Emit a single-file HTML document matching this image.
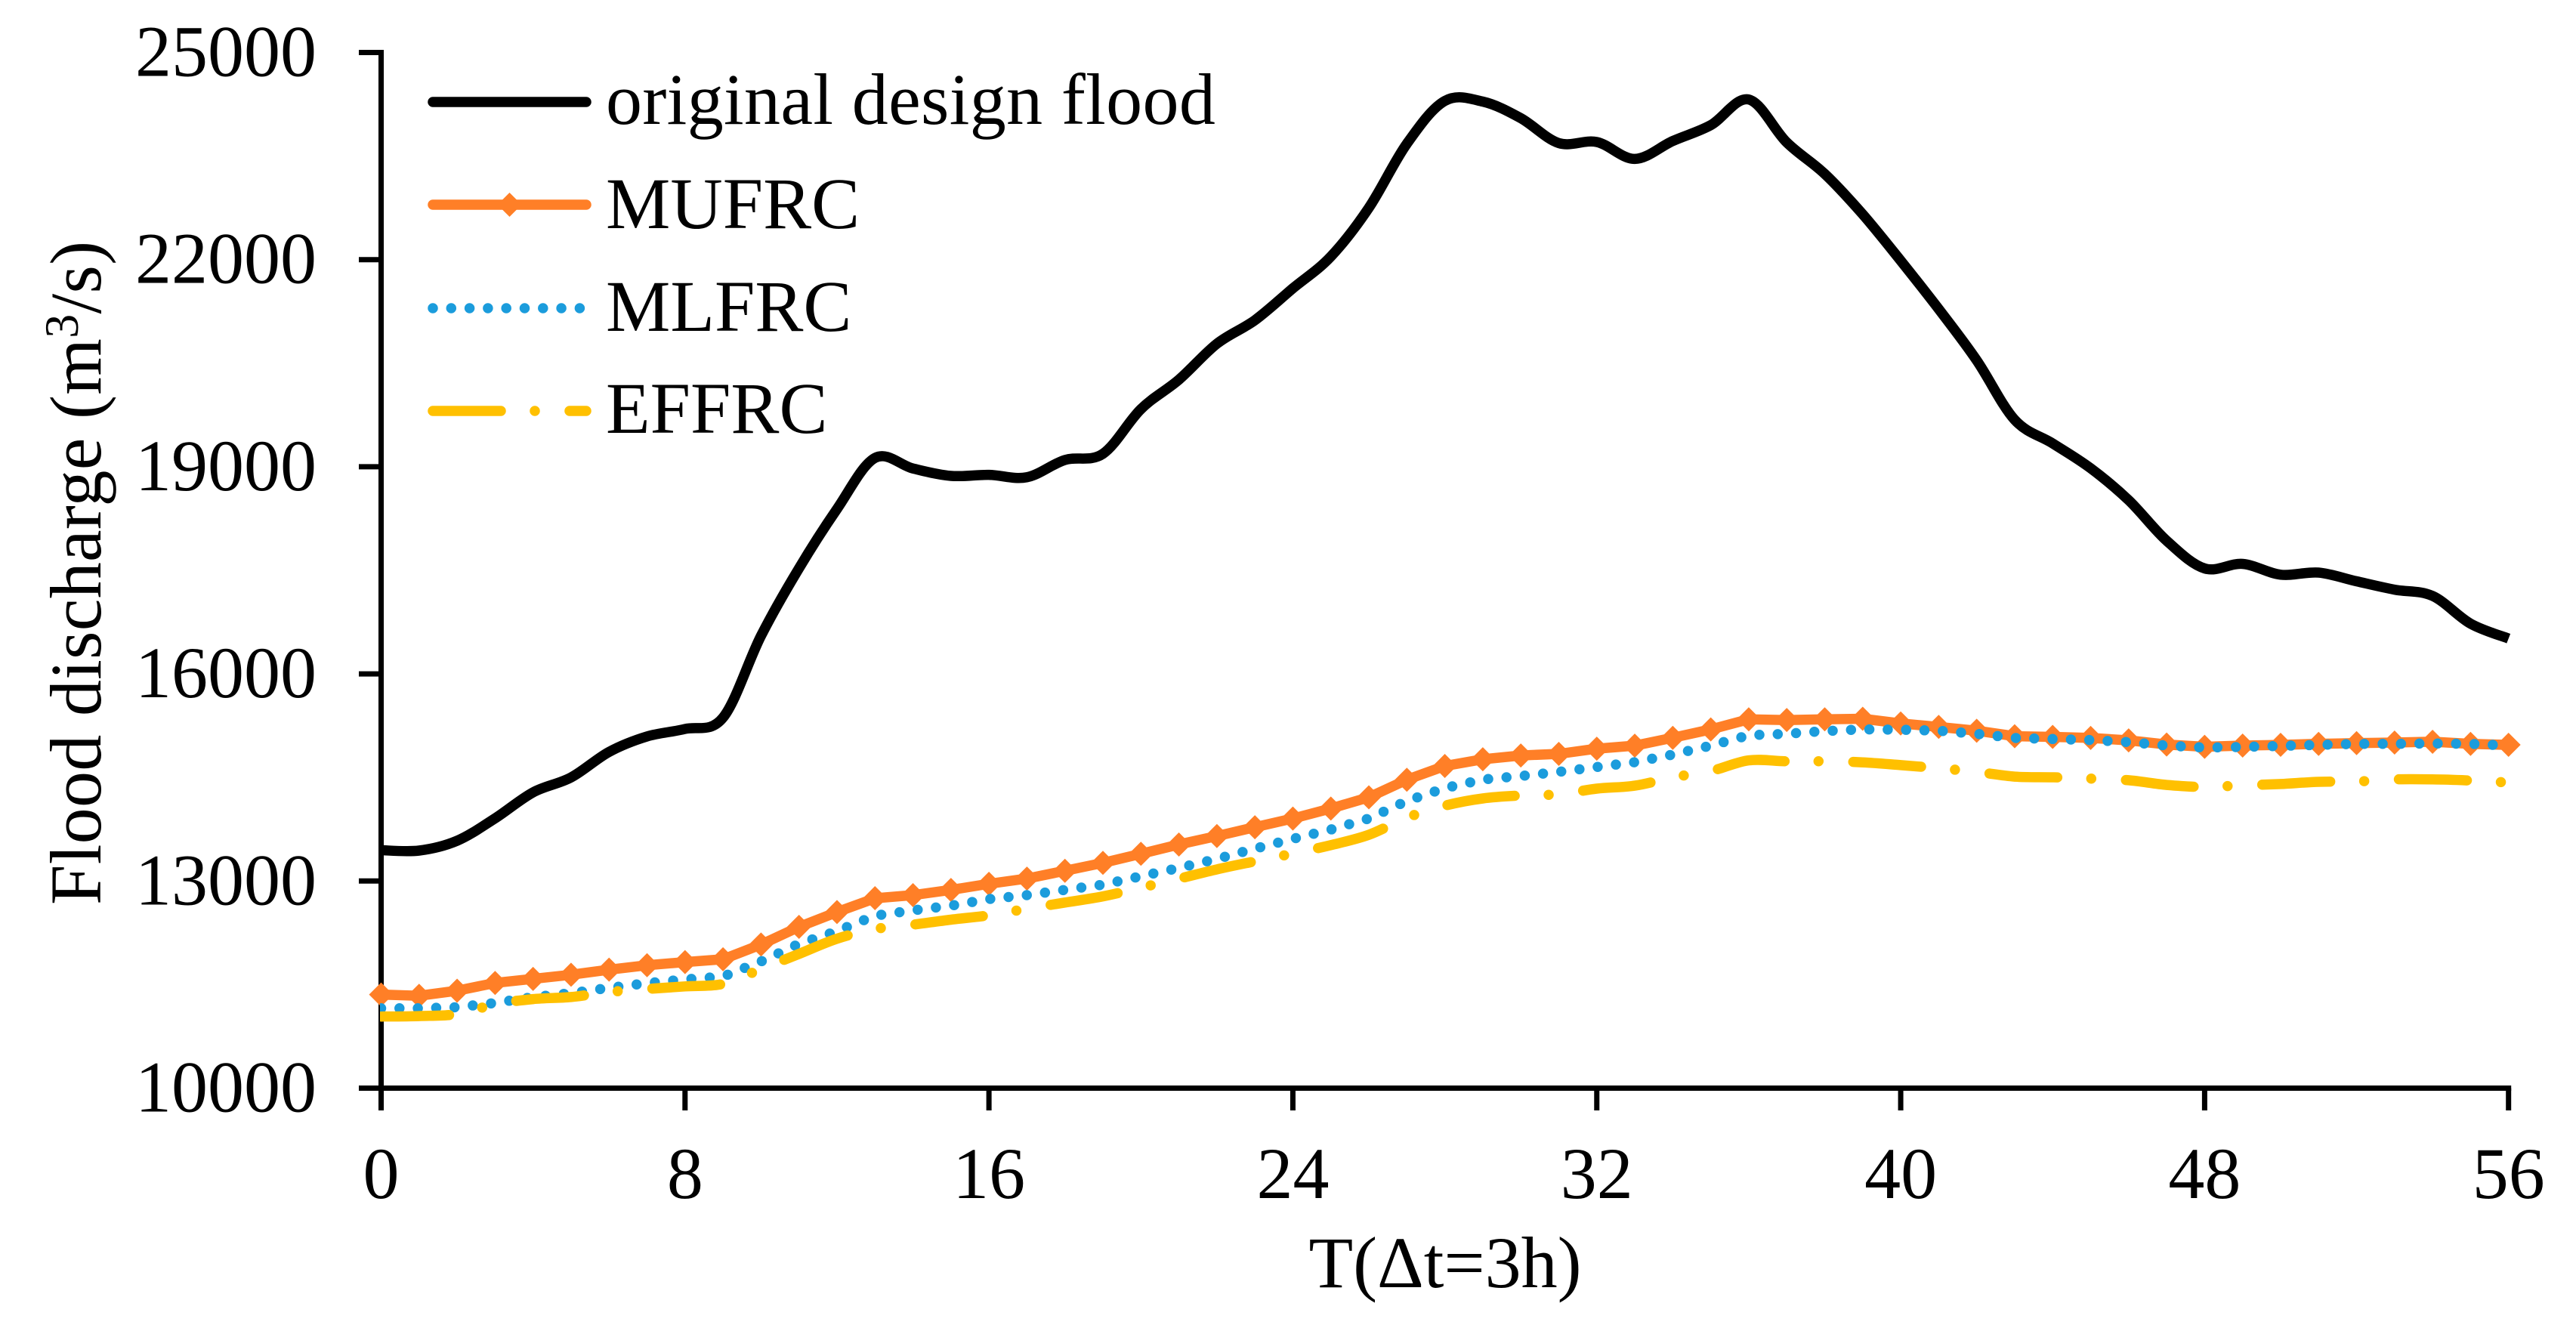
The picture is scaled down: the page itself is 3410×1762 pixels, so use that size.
<!DOCTYPE html>
<html lang="en">
<head>
<meta charset="utf-8">
<title>Flood discharge chart</title>
<style>
html,body{margin:0;padding:0;background:#fff;width:3410px;height:1762px;overflow:hidden}
svg{display:block}
text{font-family:"Liberation Serif",serif;font-size:96px;fill:#000}
</style>
</head>
<body>
<svg id="chart" xmlns="http://www.w3.org/2000/svg" width="3410" height="1762" viewBox="0 0 3410 1762">
<rect width="3410" height="1762" fill="#fff"/>
<defs><clipPath id="plotClip"><rect x="503" y="0" width="2822" height="1762"/></clipPath></defs>
<g id="axes"></g>
<g id="series"></g>
<text transform="translate(133 1198) rotate(-90)" letter-spacing="0.3">Flood discharge (m<tspan font-size="64" dy="-30">3</tspan><tspan dy="30">/s)</tspan></text>
<text x="1913" y="1704" text-anchor="middle">T(Δt=3h)</text>
<g>
<g>
<line x1="573" y1="135" x2="776" y2="135" stroke="#000" stroke-width="13.5" stroke-linecap="round"/>
<text x="802" y="164" letter-spacing="0.35">original design flood</text>
</g>
<g>
<line x1="573" y1="271" x2="776" y2="271" stroke="#ff7f27" stroke-width="13.5" stroke-linecap="round"/>
<polygon points="674.5,255 690.5,271 674.5,287 658.5,271" fill="#ff7f27"/>
<text x="802" y="302">MUFRC</text>
</g>
<g>
<line x1="573" y1="408" x2="776" y2="408" stroke="#1b9cdc" stroke-width="13.5" stroke-linecap="round" stroke-dasharray="0 24.3"/>
<text x="802" y="438">MLFRC</text>
</g>
<g>
<line x1="573" y1="544" x2="776" y2="544" stroke="#ffc000" stroke-width="13.5" stroke-linecap="round" stroke-dasharray="90 45 0 46"/>
<text x="802" y="573">EFFRC</text>
</g>
</g>
</svg>
<script>
const yTickLabels = [10000, 13000, 16000, 19000, 22000, 25000];
const xTickLabels = [0, 8, 16, 24, 32, 40, 48, 56];
const originalDesignFlood = [13446,13441,13583,13908,14284,14500,14870,15094,15202,15366,16551,17530,18388,19128,18975,18868,18883,18848,19098,19188,19835,20261,20782,21123,21584,22045,22751,23678,24299,24289,24049,23688,23703,23458,23718,23948,24319,23698,23242,22656,21985,21284,20543,19680,19338,18978,18516,17929,17527,17593,17437,17467,17341,17220,17129,16728,16512];
const mufrc = [11355,11338,11411,11524,11583,11642,11716,11780,11826,11867,12080,12336,12550,12751,12795,12871,12959,13035,13148,13263,13394,13529,13651,13779,13905,14050,14212,14467,14666,14764,14818,14841,14917,14961,15074,15196,15342,15332,15342,15350,15282,15232,15177,15097,15087,15072,15037,14977,14944,14962,14972,14987,14997,15005,15017,14987,14972];
const mlfrc = [11157,11157,11172,11234,11320,11376,11452,11521,11576,11616,11835,12090,12275,12498,12576,12642,12738,12795,12872,12948,13069,13189,13319,13469,13610,13745,13905,14160,14346,14471,14521,14581,14651,14721,14831,14961,15112,15132,15172,15197,15192,15177,15132,15072,15057,15042,15012,14962,14932,14942,14957,14972,14987,14987,14992,14987,14962];
const effrc = [11037,11044,11072,11215,11290,11320,11392,11436,11474,11510,11725,11944,12164,12304,12368,12440,12503,12598,12688,12778,12904,13034,13169,13285,13398,13520,13670,13917,14091,14196,14239,14256,14338,14381,14501,14593,14747,14734,14734,14719,14678,14634,14580,14512,14502,14484,14459,14392,14362,14387,14405,14437,14442,14472,14472,14455,14426];

const NS = 'http://www.w3.org/2000/svg';
const xScale = t => 504.5 + (t - 0) / 56 * 2816.2;
const yScale = v => 1440.5 - (v - 10000) / 15000 * 1371;
const axes = document.getElementById('axes');
const seriesLayer = document.getElementById('series');

function make(tag, attrs, parent) {
  const el = document.createElementNS(NS, tag);
  for (const k in attrs) el.setAttribute(k, attrs[k]);
  parent.appendChild(el);
  return el;
}
function points(values) {
  return values.map((v, i) => [xScale(i), yScale(v)]);
}
function polyPath(pts) {
  return pts.map((p, i) => (i ? 'L' : 'M') + p[0].toFixed(1) + ' ' + p[1].toFixed(1)).join(' ');
}
function smoothPath(pts) {
  let d = 'M' + pts[0][0].toFixed(1) + ' ' + pts[0][1].toFixed(1);
  for (let i = 0; i < pts.length - 1; i++) {
    const p0 = pts[Math.max(i - 1, 0)], p1 = pts[i], p2 = pts[i + 1], p3 = pts[Math.min(i + 2, pts.length - 1)];
    const c1x = p1[0] + (p2[0] - p0[0]) / 6, c1y = p1[1] + (p2[1] - p0[1]) / 6;
    const c2x = p2[0] - (p3[0] - p1[0]) / 6, c2y = p2[1] - (p3[1] - p1[1]) / 6;
    d += ' C' + c1x.toFixed(1) + ' ' + c1y.toFixed(1) + ' ' + c2x.toFixed(1) + ' ' + c2y.toFixed(1) + ' ' + p2[0].toFixed(1) + ' ' + p2[1].toFixed(1);
  }
  return d;
}

const yAxisLine = make('line', {x1: xScale(0), y1: yScale(25000) - 3.5, x2: xScale(0), y2: 1470, stroke: '#000', 'stroke-width': 7}, axes);


const xAxisLine = make('line', {x1: 475, y1: yScale(10000), x2: xScale(56) + 3.5, y2: yScale(10000), stroke: '#000', 'stroke-width': 7}, axes);



yTickLabels.forEach(v => {
  const tick = make('line', {x1: 475, y1: yScale(v), x2: xScale(0), y2: yScale(v), stroke: '#000', 'stroke-width': 7}, axes);
  
  
  const label = make('text', {x: 419, y: yScale(v) + 31, 'text-anchor': 'end'}, axes);
  label.textContent = String(v);
  
  
});
xTickLabels.forEach(t => {
  const tick = make('line', {x1: xScale(t), y1: yScale(10000), x2: xScale(t), y2: 1470, stroke: '#000', 'stroke-width': 7}, axes);
  
  
  const label = make('text', {x: xScale(t), y: 1586, 'text-anchor': 'middle'}, axes);
  label.textContent = String(t);
  
  
});

const blackLine = make('path', {d: smoothPath(points(originalDesignFlood)), fill: 'none', stroke: '#000', 'stroke-width': 13.5, 'stroke-linejoin': 'round', 'clip-path': 'url(#plotClip)'}, seriesLayer);



const orangeLine = make('path', {d: polyPath(points(mufrc)), fill: 'none', stroke: '#ff7f27', 'stroke-width': 13.5, 'stroke-linejoin': 'round'}, seriesLayer);


points(mufrc).forEach(p => {
  const m = make('polygon', {points: [[p[0], p[1] - 16], [p[0] + 16, p[1]], [p[0], p[1] + 16], [p[0] - 16, p[1]]].map(q => q.join(',')).join(' '), fill: '#ff7f27'}, seriesLayer);
  
  
});

const blueLine = make('path', {d: polyPath(points(mlfrc)), fill: 'none', stroke: '#1b9cdc', 'stroke-width': 13.5, 'stroke-linecap': 'round', 'stroke-dasharray': '0 24.3', 'clip-path': 'url(#plotClip)'}, seriesLayer);



const yellowLine = make('path', {d: smoothPath(points(effrc)), fill: 'none', stroke: '#ffc000', 'stroke-width': 13.5, 'stroke-linecap': 'round', 'stroke-dasharray': '90 45 0 46', 'clip-path': 'url(#plotClip)'}, seriesLayer);


</script>
</body>
</html>
